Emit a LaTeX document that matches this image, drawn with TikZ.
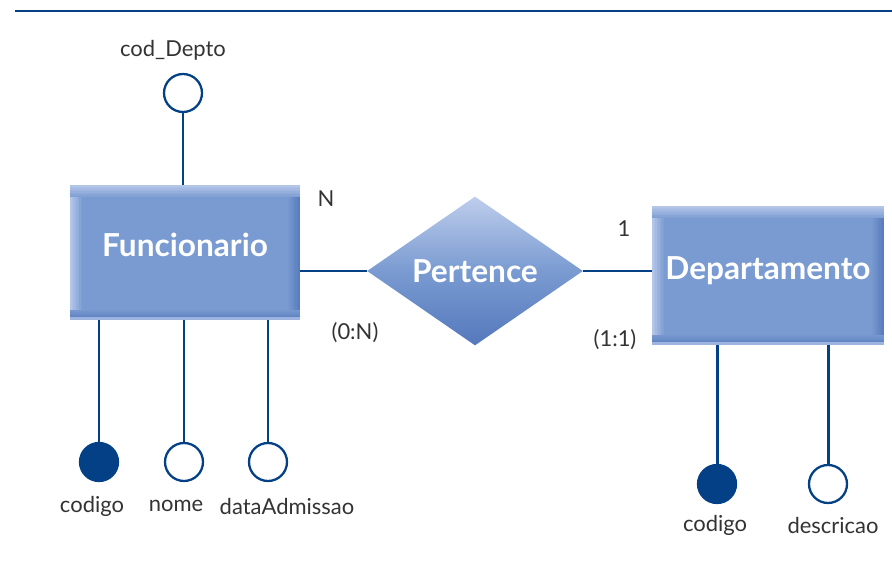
\documentclass[tikz,border=0pt]{standalone}
\usepackage{fontspec}
\setmainfont{Lato}
\usetikzlibrary{positioning,shapes.geometric}
\definecolor{erline}{RGB}{3,64,133}
\definecolor{erfill}{RGB}{122,155,209}
\definecolor{erlight}{RGB}{190,205,236}
\definecolor{erdark}{RGB}{84,120,188}
\definecolor{ertext}{RGB}{51,51,51}
\tikzset{
  link/.style={draw=erline, line width=1.7pt},
  % soft edges of a box, built from thin bands
  bevel/.style={path picture={
      \foreach \k [evaluate=\k as \p using int(85-11*\k)] in {0,...,7} {
        \fill[erlight!\p!erfill] ([xshift=0.03cm*\k]path picture bounding box.north west) rectangle ([xshift=0.03cm*\k+0.03cm]path picture bounding box.south west);
        \fill[erdark!\p!erfill] ([xshift=-0.03cm*\k]path picture bounding box.north east) rectangle ([xshift=-0.03cm*\k-0.03cm]path picture bounding box.south east);
      }
      \foreach \k [evaluate=\k as \p using int(85-11*\k)] in {0,...,7} {
        \fill[erlight!\p!erfill] ([yshift=-0.03cm*\k]path picture bounding box.north west) rectangle ([yshift=-0.03cm*\k-0.03cm]path picture bounding box.north east);
        \fill[erdark!\p!erfill] ([yshift=0.025cm*\k]path picture bounding box.south west) rectangle ([yshift=0.025cm*\k+0.025cm]path picture bounding box.south east);
      }
      \fill[erlight!50!erfill] (path picture bounding box.south west) rectangle ([yshift=0.05cm]path picture bounding box.south east);
    }},
  entity/.style={rectangle, fill=erfill, bevel, text=white, inner sep=0pt,
    font=\bfseries\fontsize{18}{20}\selectfont, text depth=0.3cm},
  relation/.style={diamond, inner sep=0pt, text=white, top color=erlight, bottom color=erdark, middle color=erfill,
    minimum width=4.32cm, minimum height=2.98cm, font=\bfseries\fontsize{18}{20}\selectfont},
  attrib/.style={circle, draw=erline, line width=1.3pt, fill=white, minimum size=0.76cm, inner sep=0pt},
  keyattrib/.style={attrib, fill=erline},
  attlabel/.style={text=ertext, inner sep=0pt, font=\fontsize{12.5}{14}\selectfont}
}

\begin{document}
\begin{tikzpicture}[x=0.02cm, y=0.02cm]
  \useasboundingbox (0,0) rectangle (892,565);
  \coordinate (ruleA) at (15,554);
  \coordinate (ruleB) at (892,554);
  \draw[link] (ruleA) -- (ruleB);

  % entities and relationship
  \node[entity, minimum width=4.6cm, minimum height=2.7cm] (func) at (185,312.5) {Funcionario};
  \node[entity, minimum width=4.64cm, minimum height=2.78cm] (depto) at (768,289.5) {Departamento};
  \node[relation] (pert) at (475,294) {Pertence};
  \draw[link] (func.east |- pert.west) -- (pert.west);
  \draw[link] (pert.east) -- (pert.east -| depto.west);

  % attributes
  \node[attrib] (codDepto) at (183,472) {};
  \node[keyattrib] (fcod) at (99,103) {};
  \node[attrib] (fnome) at (184,103) {};
  \node[attrib] (fdata) at (268,103) {};
  \node[keyattrib] (dcod) at (717,81) {};
  \node[attrib] (ddesc) at (828,81) {};
  \draw[link] (codDepto) -- (codDepto |- func.north);
  \foreach \at in {fcod,fnome,fdata}
    \draw[link] (\at |- func.south) -- (\at);
  \foreach \at in {dcod,ddesc}
    \draw[link] (\at |- depto.south) -- (\at);

  % names and cardinalities
  \node[attlabel] (lcodDepto) at (173,515) {cod\_Depto};
  \node[attlabel] (lfcod) at (92,59) {codigo};
  \node[attlabel] (lfnome) at (176,59) {nome};
  \node[attlabel] (lfdata) at (287,59) {dataAdmissao};
  \node[attlabel] (ldcod) at (715,40) {codigo};
  \node[attlabel] (lddesc) at (833,40) {descricao};
  \node[attlabel] (cardN) at (326,366) {N};
  \node[attlabel] (card0N) at (355,232) {(0:N)};
  \node[attlabel] (card1) at (624,336) {1};
  \node[attlabel] (card11) at (615,225) {(1:1)};
\end{tikzpicture}
\end{document}
